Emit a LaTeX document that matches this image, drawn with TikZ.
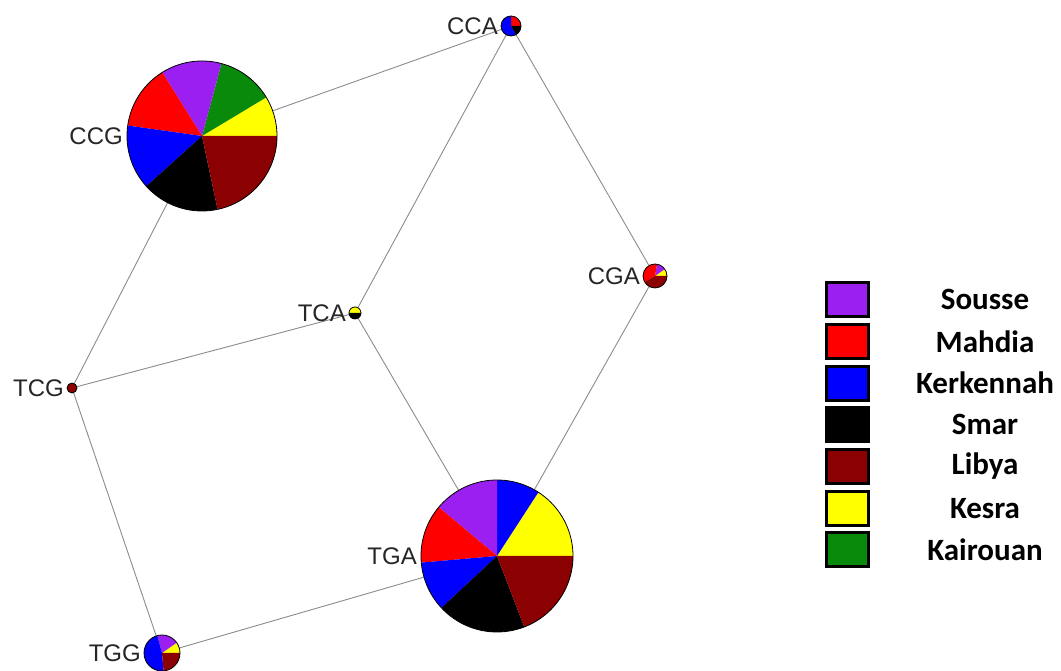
\documentclass[tikz,border=0pt]{standalone}
\usepackage{fontspec}
\setmainfont{Liberation Sans}
\newfontfamily\legendfont{Carlito}
\usetikzlibrary{positioning}

\definecolor{sousse}{HTML}{9A1FF0}
\definecolor{mahdia}{HTML}{FF0000}
\definecolor{kerkennah}{HTML}{0000FF}
\definecolor{smar}{HTML}{000000}
\definecolor{libya}{HTML}{8B0000}
\definecolor{kesra}{HTML}{FFFF00}
\definecolor{kairouan}{HTML}{0A8A0A}
\definecolor{linkgray}{HTML}{8C8C8C}

\tikzset{
  hub/.style={circle, inner sep=0pt, outer sep=0pt, minimum size=#1},
  link/.style={draw=linkgray, line width=0.9pt},
  hublabel/.style={text=black!85, font=\fontsize{24}{24}\selectfont, inner sep=0pt},
  keybox/.style={draw=black, line width=3pt, minimum width=42pt, minimum height=34pt, inner sep=0pt},
  keylabel/.style={font=\legendfont\bfseries\fontsize{31}{32}\selectfont, inner sep=0pt}
}

% pie: node, radius, list of start/end/colour
\newcommand{\hubpie}[3]{%
  \foreach \a/\b/\c in {#3}
    \fill[\c] (#1.center) -- ++(\a:#2) arc[start angle=\a, end angle=\b, radius=#2] -- cycle;
  \draw[black, line width=0.8pt] (#1.center) circle[radius=#2];
}

\begin{document}
\begin{tikzpicture}[x=1pt, y=1pt]
  \useasboundingbox[fill=white] (0,0) rectangle (1061,671);

  % haplotypes
  \node[hub=150pt] (CCG) at (202,535) {};
  \node[hub=20pt]  (CCA) at (511,645) {};
  \node[hub=24pt]  (CGA) at (655,395) {};
  \node[hub=12pt]  (TCA) at (355,358) {};
  \node[hub=10pt]  (TCG) at (72,283) {};
  \node[hub=36pt]  (TGG) at (162,18) {};
  \node[hub=152pt] (TGA) at (497,115) {};

  % network links
  \draw[link] (CCG) -- (CCA);
  \draw[link] (CCA) -- (CGA);
  \draw[link] (CCA) -- (TCA);
  \draw[link] (CCG) -- (TCG);
  \draw[link] (TCG) -- (TCA);
  \draw[link] (TCA) -- (TGA);
  \draw[link] (CGA) -- (TGA);
  \draw[link] (TCG) -- (TGG);
  \draw[link] (TGG) -- (TGA);

  % pies
  \hubpie{CCG}{75}{0/31/kesra, 31/75/kairouan, 75/122/sousse, 122/172/mahdia,
    172/222/kerkennah, 222/282/smar, 282/360/libya}
  \hubpie{TGA}{76}{0/57/kesra, 57/90/kerkennah, 90/140/sousse, 140/185/mahdia,
    185/223/kerkennah, 223/291/smar, 291/360/libya}
  \hubpie{CCA}{10}{0/90/mahdia, 90/300/kerkennah, 300/360/smar}
  \hubpie{CGA}{12}{0/35/kesra, 35/80/sousse, 80/210/mahdia, 210/360/libya}
  \hubpie{TCA}{6}{0/180/kesra, 180/360/smar}
  \hubpie{TCG}{5}{0/360/libya}
  \hubpie{TGG}{18}{0/35/kesra, 35/105/sousse, 105/275/kerkennah, 275/360/libya}

  % haplotype names
  \node[hublabel, left=4pt of CCG] {CCG};
  \node[hublabel, left=3pt of CCA] {CCA};
  \node[hublabel, left=3pt of CGA] {CGA};
  \node[hublabel, left=3pt of TCA] {TCA};
  \node[hublabel, left=3pt of TCG] {TCG};
  \node[hublabel, left=3pt of TGG] {TGG};
  \node[hublabel, left=4pt of TGA] {TGA};

  % legend
  \foreach \lab/\col [count=\i] in {Sousse/sousse, Mahdia/mahdia, Kerkennah/kerkennah,
      Smar/smar, Libya/libya, Kesra/kesra, Kairouan/kairouan} {
    \node[keybox, fill=\col] (key\i) at (847, 413-41.7*\i) {};
    \node[keylabel] (lab\i) at (985, 413-41.7*\i) {\lab};
  }
\end{tikzpicture}
\end{document}
